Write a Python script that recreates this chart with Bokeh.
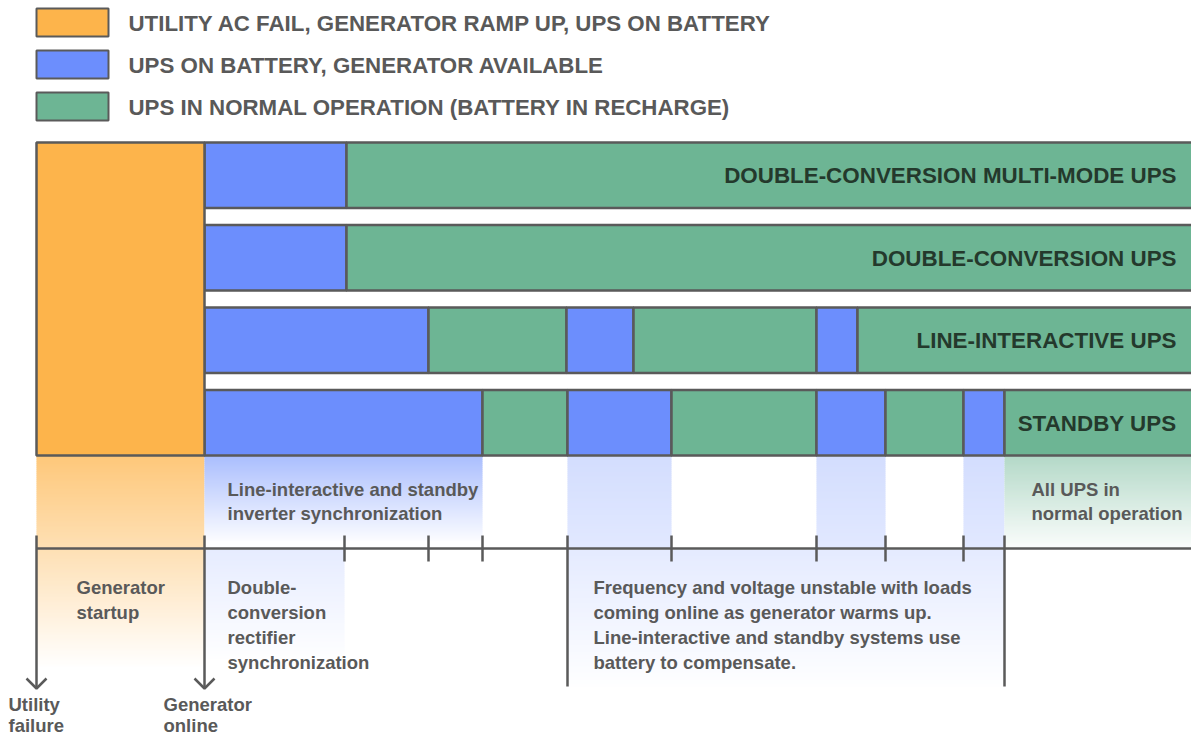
import numpy as np
from bokeh.plotting import figure
from bokeh.models import Range1d, ColumnDataSource
from bokeh.core.properties import value
from bokeh.embed import file_html
from bokeh.resources import INLINE

# ---------------- data ----------------
legend_labels = [
    "UTILITY AC FAIL, GENERATOR RAMP UP, UPS ON BATTERY",
    "UPS ON BATTERY, GENERATOR AVAILABLE",
    "UPS IN NORMAL OPERATION (BATTERY IN RECHARGE)",
]
legend_states = ["startup", "battery", "normal"]
state_colors = {"startup": "#FDB44B", "battery": "#6C8EFD", "normal": "#6DB594"}

ups_types = [
    "DOUBLE-CONVERSION MULTI-MODE UPS",
    "DOUBLE-CONVERSION UPS",
    "LINE-INTERACTIVE UPS",
    "STANDBY UPS",
]
# time (arbitrary units, utility failure = 0)
utility_failure = 0
generator_online = 168
timeline_end = 1160
row_starts = [
    [168, 310],
    [168, 310],
    [168, 392, 530, 597, 780, 821],
    [168, 446, 531, 635, 780, 849, 927, 968],
]
row_states = [
    ["battery", "normal"],
    ["battery", "normal"],
    ["battery", "normal", "battery", "normal", "battery", "normal"],
    ["battery", "normal", "battery", "normal", "battery", "normal", "battery", "normal"],
]
tick_times = [0, 168, 308, 392, 446, 531, 635, 780, 849, 927, 968]
arrow_times = [0, 168]
long_tick_times = [531, 968]

# phase annotations (start time of the phase they describe)
dc_sync_end = 308
li_sync_end = 446
unstable_start = 531
unstable_end = 968
battery_windows = [(531, 635), (780, 849), (927, 968)]

# ---------------- layout ----------------
GREY = "#5A5A5A"
TEXT = "#595959"
FONT = value("Liberation Sans")
ROW_TOP = [142, 224.5, 307, 389.5]
ROW_H = 65.5
BAR_BOTTOM = ROW_TOP[-1] + ROW_H
AXIS_Y = 548

p = figure(width=1191, height=736, x_range=Range1d(-36, 1155), y_range=Range1d(736, 0),
           output_backend="svg", toolbar_location=None, min_border=0,
           x_axis_type=None, y_axis_type=None, outline_line_color=None)
p.grid.visible = False
p.background_fill_color = "white"


def blend(hexc, a):
    h = hexc.lstrip("#")
    r, g, b = (int(h[i:i + 2], 16) for i in (0, 2, 4))
    return "#%02x%02x%02x" % tuple(int(round(255 * (1 - a) + c * a)) for c in (r, g, b))


grad = dict(left=[], right=[], top=[], bottom=[], color=[])


def add_grad(x0, x1, y0, y1, color, a0, a1, step=2.0):
    y = y0
    while y < y1:
        mid = min(y + step / 2, y1)
        a = a0 + (a1 - a0) * (mid - y0) / (y1 - y0)
        grad["left"].append(x0)
        grad["right"].append(x1)
        grad["top"].append(y)
        grad["bottom"].append(min(y + step + 0.6, y1))
        grad["color"].append(blend(color, max(a, 0)))
        y += step


orange = state_colors["startup"]
blue = state_colors["battery"]
green = state_colors["normal"]
add_grad(utility_failure, generator_online, BAR_BOTTOM, 668, orange, 0.74, 0.0)
add_grad(generator_online, li_sync_end, BAR_BOTTOM, 540, blue, 0.58, 0.03)
add_grad(generator_online, dc_sync_end, AXIS_Y + 1, 662, blue, 0.17, 0.0)
for (a, b) in battery_windows:
    add_grad(a, b, BAR_BOTTOM, AXIS_Y, blue, 0.30, 0.20)
add_grad(unstable_start, unstable_end, AXIS_Y + 1, 690, blue, 0.18, 0.0)
add_grad(unstable_end, timeline_end, BAR_BOTTOM, AXIS_Y, green, 0.52, 0.03)
p.quad(left="left", right="right", top="top", bottom="bottom", fill_color="color",
       line_color=None, source=ColumnDataSource(grad))

# bars
bars = dict(left=[], right=[], top=[], bottom=[], color=[])
for i, (starts, states) in enumerate(zip(row_starts, row_states)):
    ends = starts[1:] + [timeline_end]
    for s, e, st in zip(starts, ends, states):
        bars["left"].append(s)
        bars["right"].append(e)
        bars["top"].append(ROW_TOP[i])
        bars["bottom"].append(ROW_TOP[i] + ROW_H)
        bars["color"].append(state_colors[st])
bars["left"].append(utility_failure)
bars["right"].append(generator_online)
bars["top"].append(ROW_TOP[0])
bars["bottom"].append(BAR_BOTTOM)
bars["color"].append(orange)
p.quad(left="left", right="right", top="top", bottom="bottom", fill_color="color",
       line_color=GREY, line_width=2.5, source=ColumnDataSource(bars))

# row labels
p.text(x=[timeline_end - 20] * len(ups_types), y=[t + ROW_H / 2 + 0.5 for t in ROW_TOP], text=ups_types,
       text_align="right", text_baseline="middle", text_font=FONT, text_font_style="bold",
       text_font_size="22.4px", text_color="#24392C")

# legend
leg_y = [22, 64, 106]
p.quad(left=[0] * 3, right=[72] * 3, top=[y - 14 for y in leg_y], bottom=[y + 14 for y in leg_y],
       fill_color=[state_colors[s] for s in legend_states], line_color=GREY, line_width=2)
p.text(x=[92] * 3, y=[y + 0.5 for y in leg_y], text=legend_labels, text_align="left",
       text_baseline="middle", text_font=FONT, text_font_style="bold",
       text_font_size="22.3px", text_color=TEXT)

# timeline axis
p.line(x=[utility_failure, timeline_end], y=[AXIS_Y, AXIS_Y], line_color=GREY, line_width=2.5)
short = [t for t in tick_times if t not in arrow_times and t not in long_tick_times]
p.segment(x0=short, x1=short, y0=[535] * len(short), y1=[561] * len(short), line_color=GREY, line_width=2.5)
p.segment(x0=arrow_times, x1=arrow_times, y0=[535] * 2, y1=[688] * 2, line_color=GREY, line_width=2.5)
p.segment(x0=long_tick_times, x1=long_tick_times, y0=[535] * 2, y1=[686] * 2, line_color=GREY, line_width=2.5)
p.multi_line(xs=[[t - 10, t, t + 10] for t in arrow_times], ys=[[678, 688, 678]] * len(arrow_times),
             line_color=GREY, line_width=2.5)

# annotations
ann = [
    (generator_online + 23, 489, ["Line-interactive and standby", "inverter synchronization"], 24),
    (utility_failure + 40, 587, ["Generator", "startup"], 24.5),
    (generator_online + 23, 587, ["Double-", "conversion", "rectifier", "synchronization"], 25),
    (unstable_start + 26, 587, ["Frequency and voltage unstable with loads",
                                "coming online as generator warms up.",
                                "Line-interactive and standby systems use",
                                "battery to compensate."], 25),
    (unstable_end + 27, 489, ["All UPS in", "normal operation"], 24),
    (utility_failure - 28, 704, ["Utility", "failure"], 20.5),
    (generator_online - 41, 704, ["Generator", "online"], 20.5),
]
ax, ay, at = [], [], []
for x0, y0, lines, lh in ann:
    for k, ln in enumerate(lines):
        ax.append(x0)
        ay.append(y0 + k * lh)
        at.append(ln)
p.text(x=ax, y=ay, text=at, text_align="left", text_baseline="middle", text_font=FONT,
       text_font_style="bold", text_font_size="18.5px", text_color=TEXT)

open("out.html", "w").write(file_html(p, INLINE))
